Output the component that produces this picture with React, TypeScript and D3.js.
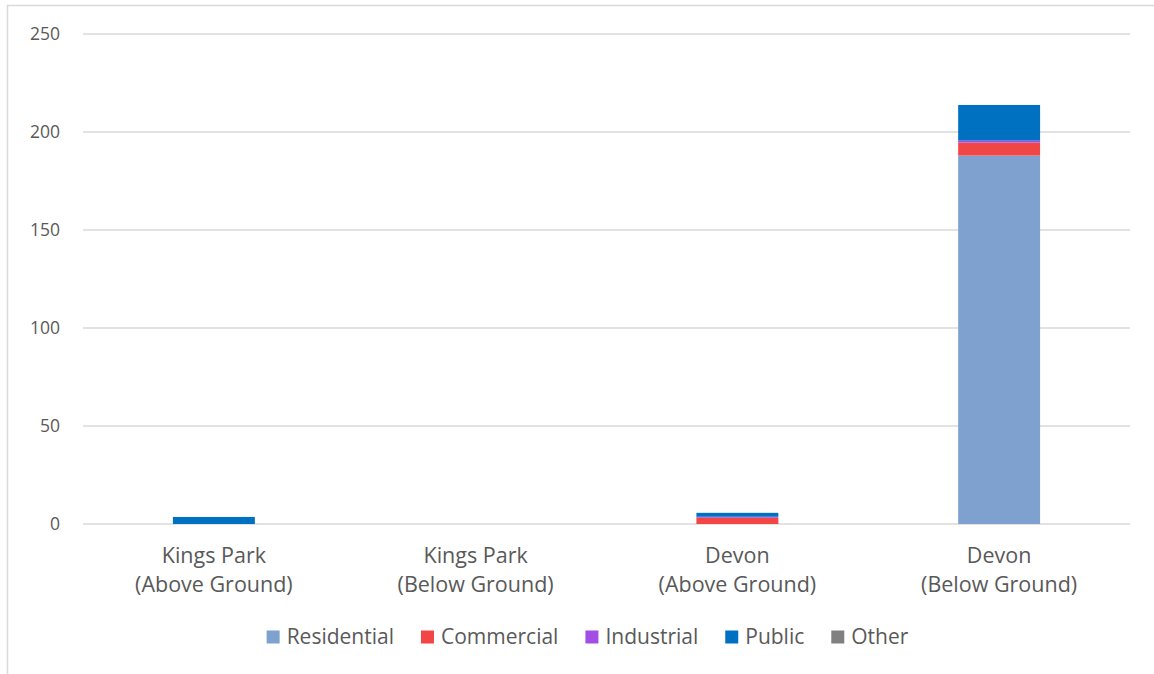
import React, { useEffect, useRef } from "react";
import * as d3 from "d3";

const categories = [
  ["Kings Park", "(Above Ground)"],
  ["Kings Park", "(Below Ground)"],
  ["Devon", "(Above Ground)"],
  ["Devon", "(Below Ground)"],
];
const seriesNames = ["Residential", "Commercial", "Industrial", "Public", "Other"];
const residential = [0, 0, 0, 188];
const commercial = [0, 0, 3.2, 6.6];
const industrial = [0, 0, 0.5, 1];
const publicVals = [3.6, 0, 2, 18.2];
const other = [0, 0, 0, 0];
const yTicks = [0, 50, 100, 150, 200, 250];
const colors = ["#7FA1D0", "#F24545", "#A24EE6", "#0070C0", "#808080"];

const W = 1154;
const H = 674;
const FONT = "'Open Sans', 'Noto Sans', sans-serif";

export default function App() {
  const ref = useRef<SVGSVGElement>(null);
  useEffect(() => {
    const svg = d3.select(ref.current);
    svg.selectAll("*").remove();
    const left = 83, right = 1130, top = 34, bottom = 524;
    const x = d3.scaleBand().domain(categories.map((_, i) => String(i))).range([left, right]).paddingInner(0.687).paddingOuter(0.3435);
    const y = d3.scaleLinear().domain([0, 250]).range([bottom, top]);

    svg.append("path").attr("d", `M7.5,${H} L7.5,5.5 L${W},5.5`).attr("fill", "none").attr("stroke", "#d9d9d9").attr("stroke-width", 1.5);

    const g = svg.append("g");
    g.selectAll("line.grid").data(yTicks).join("line")
      .attr("x1", left).attr("x2", right)
      .attr("y1", (d) => y(d)).attr("y2", (d) => y(d))
      .attr("stroke", "#d9d9d9").attr("stroke-width", 1.5);
    g.selectAll("text.tick").data(yTicks).join("text")
      .attr("x", 60).attr("y", (d) => y(d)).attr("dy", "0.36em")
      .attr("text-anchor", "end").attr("font-family", FONT).attr("font-size", 17.5).attr("fill", "#595959")
      .text((d) => String(d));

    const rows = categories.map((_, i) => ({
      key: String(i),
      Residential: residential[i], Commercial: commercial[i], Industrial: industrial[i], Public: publicVals[i], Other: other[i],
    }));
    const stack = d3.stack<any>().keys(seriesNames)(rows);
    stack.forEach((layer, si) => {
      svg.append("g").selectAll("rect").data(layer).join("rect")
        .attr("x", (d: any) => x(d.data.key)!)
        .attr("width", x.bandwidth())
        .attr("y", (d: any) => y(d[1]))
        .attr("height", (d: any) => Math.max(0, y(d[0]) - y(d[1])))
        .attr("fill", colors[si]);
    });

    categories.forEach((lines, i) => {
      const cx = x(String(i))! + x.bandwidth() / 2;
      lines.forEach((t, li) => {
        svg.append("text").attr("x", cx).attr("y", 563 + li * 29)
          .attr("text-anchor", "middle").attr("font-family", FONT).attr("font-size", 21.5).attr("fill", "#595959").text(t);
      });
    });

    const lg = svg.append("g");
    const items: { g: any; w: number }[] = [];
    seriesNames.forEach((name, i) => {
      const it = lg.append("g");
      it.append("rect").attr("x", 0).attr("y", -6.5).attr("width", 13).attr("height", 13).attr("fill", colors[i]);
      const t = it.append("text").attr("x", 20).attr("y", 0).attr("dy", "0.35em").attr("font-family", FONT).attr("font-size", 21).attr("fill", "#595959").text(name);
      const tw = (t.node() as SVGTextElement).getComputedTextLength();
      items.push({ g: it, w: 20 + tw });
    });
    const gap = 27;
    const total = items.reduce((s, d) => s + d.w, 0) + gap * (items.length - 1);
    let cursor = (266 + 909) / 2 - total / 2;
    items.forEach((d) => {
      d.g.attr("transform", `translate(${cursor},637)`);
      cursor += d.w + gap;
    });
  }, []);
  return (
    <div style={{ position: "absolute", left: 0, top: 0 }}>
      <svg ref={ref} width={W} height={H} style={{ display: "block", background: "#fff" }} />
    </div>
  );
}
